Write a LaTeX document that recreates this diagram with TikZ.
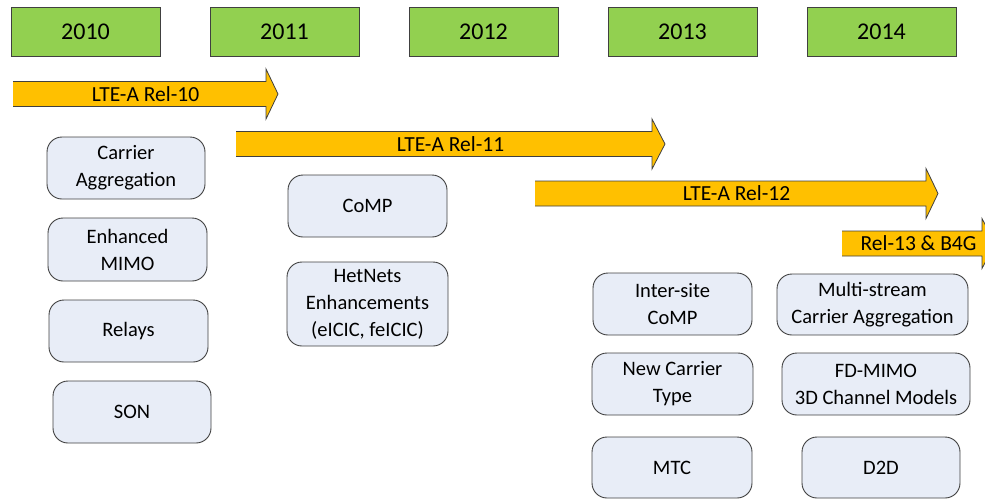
\documentclass[tikz,border=0pt]{standalone}
\usepackage{fontspec}
\setmainfont{Carlito}
\definecolor{yeargreen}{HTML}{92D050}
\definecolor{relorange}{HTML}{FFC000}
\definecolor{featfill}{HTML}{E8EDF7}
\definecolor{edge}{HTML}{404040}
\tikzset{
  yearbox/.style={draw=edge, line width=0.9pt, fill=yeargreen, inner sep=0pt,
    minimum width=149pt, minimum height=49pt, font=\fontsize{24}{28}\selectfont},
  featbox/.style={draw=edge, line width=0.9pt, fill=featfill, rounded corners=15pt,
    inner sep=0pt, align=center, font=\fontsize{20.5}{27}\selectfont},
  rellabel/.style={inner sep=0pt, font=\fontsize{21.5}{25}\selectfont},
  relarrow/.style={fill=relorange},
  reledge/.style={draw=edge, line width=0.8pt, line join=miter},
}
% block arrow: left x, center y, head base x, tip x, half shaft, half head
\newcommand{\relblock}[7]{%
  \fill[relarrow] (#1,#2-#5) -- (#3,#2-#5) -- (#3,#2-#6) -- (#4,#2) -- (#3,#2+#6)
     -- (#3,#2+#5) -- (#1,#2+#5) -- cycle;
  \draw[reledge] (#1,#2-#5) -- (#3,#2-#5) -- (#3,#2-#6) -- (#4,#2) -- (#3,#2+#6)
     -- (#3,#2+#5) -- (#1,#2+#5);
  \node[rellabel] (#7) at ({(#1+#4)/2},#2) {};
}
\begin{document}
\begin{tikzpicture}[x=1pt,y=-1pt]
\useasboundingbox (0,0) rectangle (985,499);
\clip (0,0) rectangle (985,499);

% year headers
\node[yearbox] (y2010) at (85.5,31.5) {2010};
\node[yearbox] (y2011) at (284.5,31.5) {2011};
\node[yearbox] (y2012) at (483.5,31.5) {2012};
\node[yearbox] (y2013) at (682.5,31.5) {2013};
\node[yearbox] (y2014) at (881.5,31.5) {2014};

% release arrows
\relblock{13}{94}{266}{278}{12.5}{25}{r10}
\node[rellabel] at (r10) {LTE-A Rel-10};
\relblock{236}{144}{652}{665}{12.5}{25}{r11}
\node[rellabel] at (r11) {LTE-A Rel-11};
\relblock{535}{193.5}{926}{938}{12.5}{25}{r12}
\node[rellabel] at (r12) {LTE-A Rel-12};
\relblock{842}{243.5}{982}{995}{12.5}{25}{r13}
\node[rellabel] at (r13) {Rel-13 \& B4G};

% Rel-10 features
\node[featbox, minimum width=158pt, minimum height=62pt] (ca) at (126,168) {Carrier\\Aggregation};
\node[featbox, minimum width=159pt, minimum height=63pt] (emimo) at (127.5,249.5) {Enhanced\\MIMO};
\node[featbox, minimum width=159pt, minimum height=62pt] (relays) at (128.5,331) {Relays};
\node[featbox, minimum width=158pt, minimum height=62pt] (son) at (132,412) {SON};

% Rel-11 features
\node[featbox, minimum width=159pt, minimum height=62pt] (comp) at (367.5,206) {CoMP};
\node[featbox, minimum width=161pt, minimum height=84pt] (hetnet) at (367.5,304) {HetNets\\Enhancements\\(eICIC, feICIC)};

% Rel-12 features
\node[featbox, minimum width=159pt, minimum height=62pt] (iscomp) at (672.5,304) {Inter-site\\CoMP};
\node[featbox, minimum width=161pt, minimum height=62pt] (nct) at (672.5,384) {New Carrier\\Type};
\node[featbox, minimum width=160pt, minimum height=61pt] (mtc) at (672,467.5) {MTC};

% Rel-13 features
\node[featbox, minimum width=191pt, minimum height=61pt] (msca) at (872.5,304.5) {Multi-stream\\Carrier Aggregation};
\node[featbox, minimum width=188pt, minimum height=62pt] (fdmimo) at (876,384) {FD-MIMO\\3D Channel Models};
\node[featbox, minimum width=158pt, minimum height=61pt] (d2d) at (881,467.5) {D2D};
\end{tikzpicture}
\end{document}
